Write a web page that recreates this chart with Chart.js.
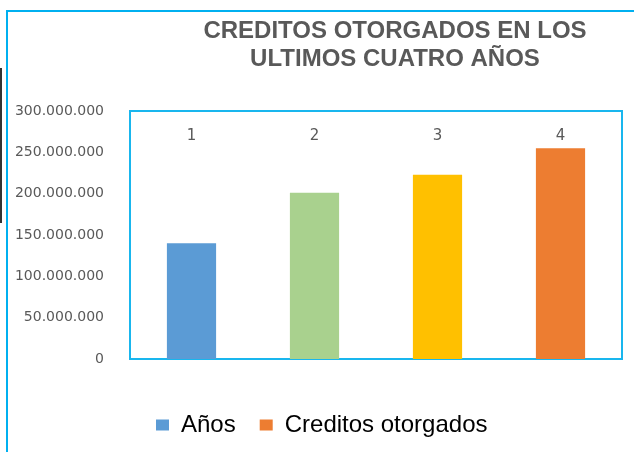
<!DOCTYPE html>
<html><head><meta charset="utf-8">
<script src="https://cdn.jsdelivr.net/npm/chart.js@4.4.1/dist/chart.umd.min.js"></script>
<style>
html,body{margin:0;padding:0;background:#fff;overflow:hidden;width:634px;height:452px;}
#frame{position:absolute;left:6px;top:10px;width:700px;height:500px;border-left:2px solid #00B0F0;border-top:2px solid #00B0F0;}
#mark{position:absolute;left:0;top:68px;width:2px;height:155px;background:#333;}
#wrap{position:absolute;left:0;top:0;width:634px;height:452px;}
</style></head><body>
<div id="frame"></div><div id="mark"></div>
<div id="wrap"><canvas id="c" width="634" height="452"></canvas></div>
<script>
const categories = ['1', '2', '3', '4'];
const creditos = [140000000, 201000000, 223000000, 255000000];
const barColors = ['#5B9BD5', '#A9D18E', '#FFC000', '#ED7D31'];
const legendLabels = ['Años', 'Creditos otorgados'];
const legendColors = ['#5B9BD5', '#ED7D31'];
const titleLines = ['CREDITOS OTORGADOS EN LOS', 'ULTIMOS CUATRO AÑOS'];
const yMin = 0, yMax = 300000000, yStep = 50000000;

const fmt = v => String(v).replace(/\B(?=(\d{3})+(?!\d))/g, '.');

const plotBorder = {
  id: 'plotBorder',
  beforeDatasetsDraw(chart) {
    const {ctx, chartArea: a} = chart;
    ctx.save();
    ctx.strokeStyle = '#19B6EE';
    ctx.lineWidth = 2;
    ctx.strokeRect(a.left, a.top, a.right - a.left, a.bottom - a.top);
    ctx.restore();
  }
};

const placeBoxes = {
  id: 'placeBoxes',
  afterLayout(chart) {
    const t = chart.titleBlock;
    if (t) { const dx = 395 - (t.left + t.right) / 2; t.left += dx; t.right += dx; }
    const l = chart.legend;
    if (l) {
      const w = l.right - l.left;
      l.left = 156 - l.options.labels.padding; l.right = l.left + w;
      l.top += 30; l.bottom += 30;
    }
  }
};

new Chart(document.getElementById('c'), {
  type: 'bar',
  data: {
    labels: categories,
    datasets: [{
      label: legendLabels[1],
      data: creditos,
      backgroundColor: barColors,
      borderWidth: 0,
      barPercentage: 0.4,
      categoryPercentage: 1
    }]
  },
  options: {
    responsive: false,
    animation: false,
    layout: {padding: {top: 0, left: 0, right: 12, bottom: 35}},
    scales: {
      x: {
        position: 'top',
        grid: {display: false, drawTicks: false},
        border: {display: false},
        ticks: {mirror: true, padding: 16, color: '#595959', font: {family: 'DejaVu Sans', size: 15}},
        afterFit(s) { s.height = 0; }
      },
      y: {
        min: yMin, max: yMax,
        grid: {display: false, drawTicks: false},
        border: {display: false},
        ticks: {stepSize: yStep, padding: 26, color: '#595959', font: {family: 'DejaVu Sans', size: 14}, callback: v => fmt(v)},
        afterFit(s) { s.width = 130; }
      }
    },
    plugins: {
      tooltip: {enabled: false},
      title: {
        display: true,
        text: titleLines,
        color: '#595959',
        font: {family: 'Liberation Sans', size: 24, weight: 'bold', lineHeight: '28px'},
        padding: {top: 17, bottom: 38}
      },
      legend: {
        display: true,
        position: 'bottom',
        align: 'start',
        labels: {
          boxWidth: 13, boxHeight: 11, padding: 24,
          color: '#404040',
          font: {family: 'Liberation Sans', size: 24},
          generateLabels: () => legendLabels.map((t, i) => ({text: t, fillStyle: legendColors[i], strokeStyle: legendColors[i], lineWidth: 0, hidden: false, datasetIndex: 0}))
        }
      }
    }
  },
  plugins: [plotBorder, placeBoxes]
});
</script>
</body></html>
